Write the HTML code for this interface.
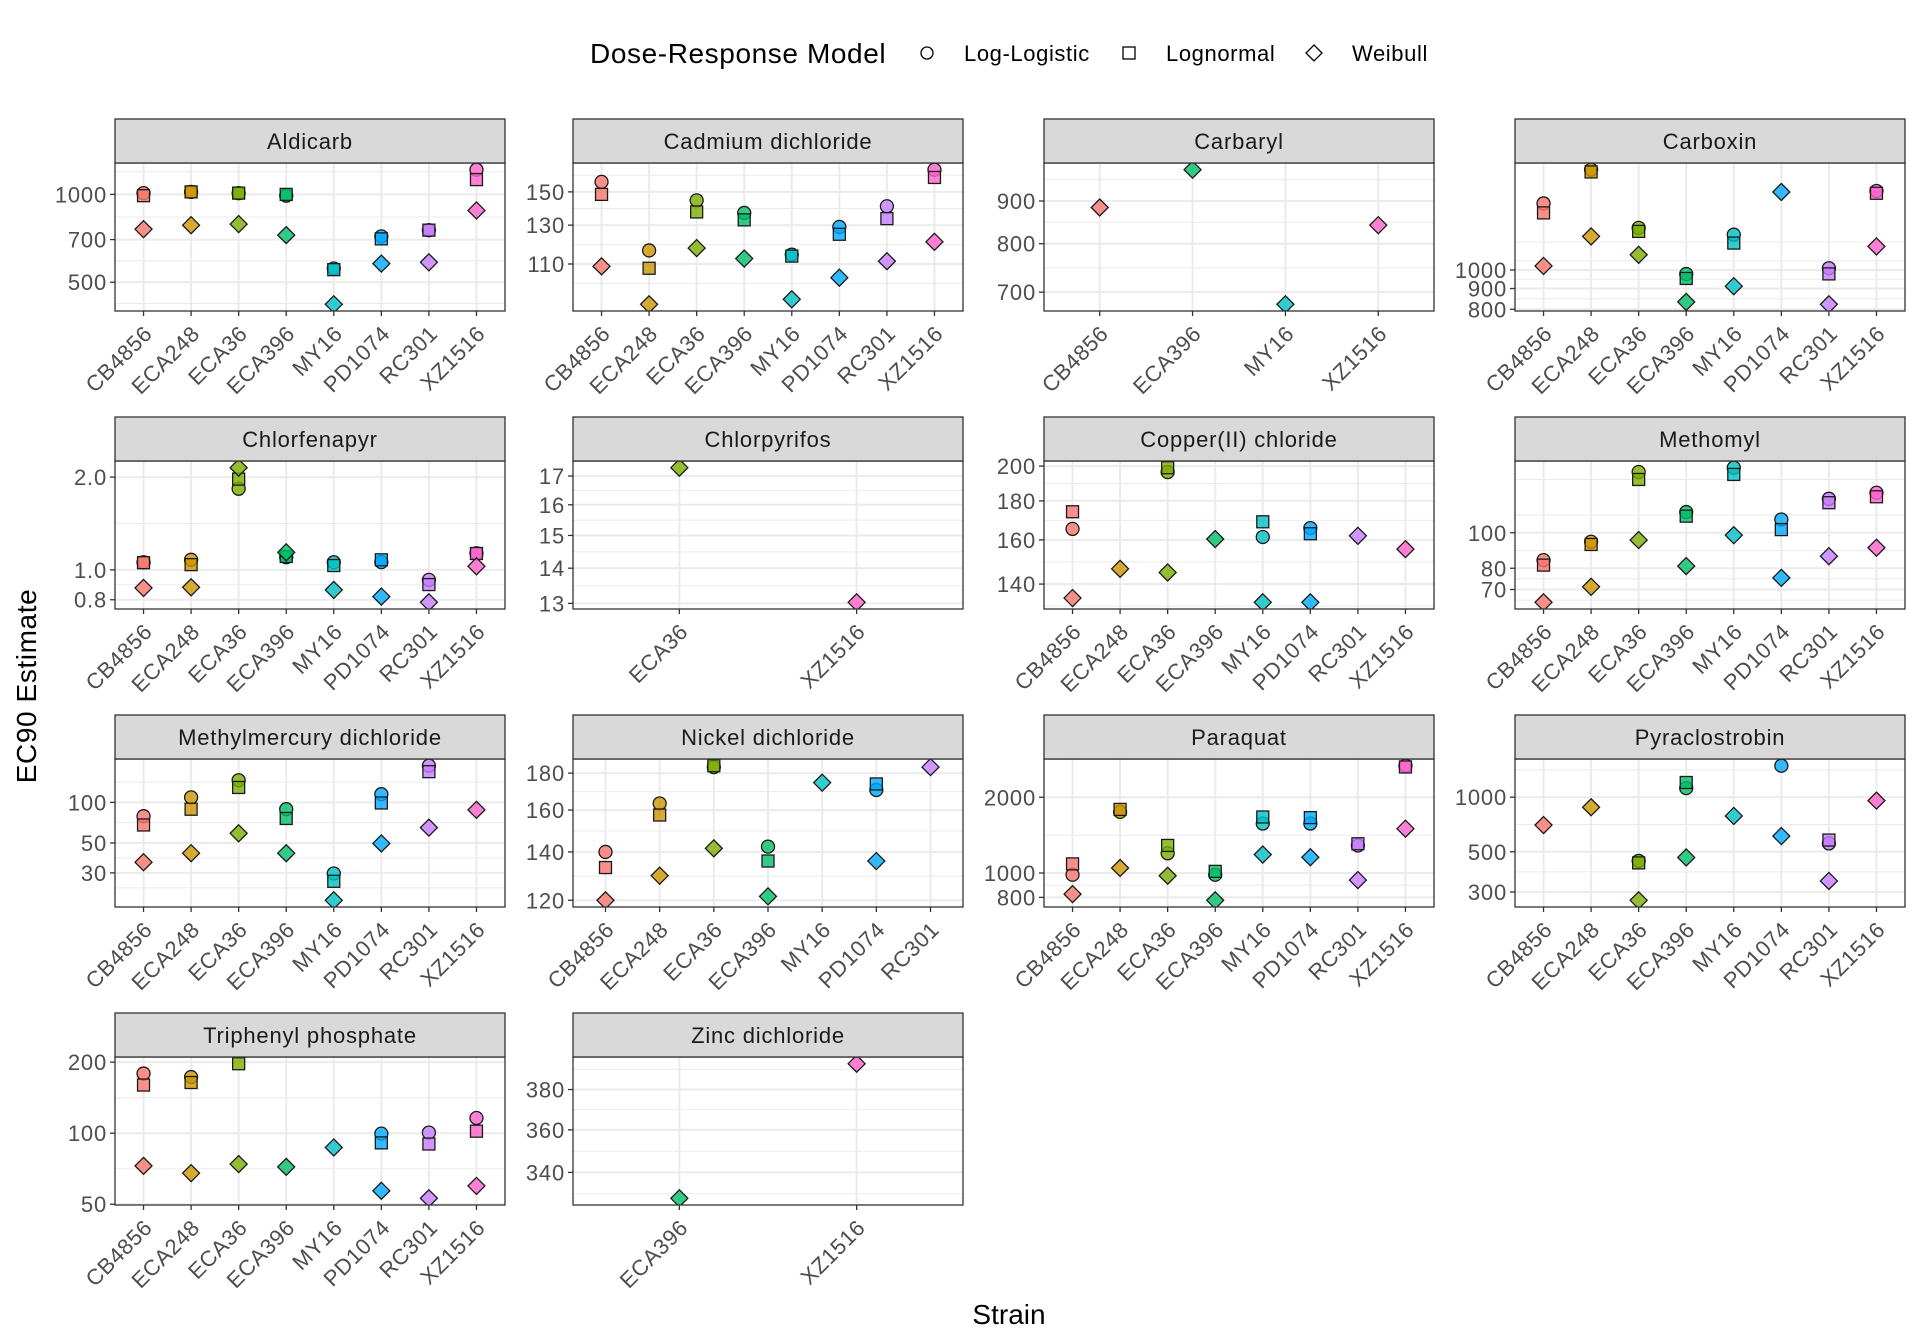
<!DOCTYPE html>
<html><head><meta charset="utf-8">
<style>
html,body{margin:0;padding:0;background:#fff;}
svg{display:block;font-family:"Liberation Sans",Arial,sans-serif;}
</style></head>
<body>
<svg id="chart" width="1920" height="1344" viewBox="0 0 1920 1344" xmlns="http://www.w3.org/2000/svg">
  <g>
    <text x="590" y="63" font-size="28" letter-spacing="0.6" fill="#000">Dose-Response Model</text>
    <g>
      <circle cx="927" cy="53" r="6" fill="#fff" stroke="#000" stroke-width="1.3"/>
      <text x="964" y="61" font-size="22" letter-spacing="0.6" fill="#000">Log-Logistic</text>
    </g>
    <g>
      <rect x="1123" y="47" width="12" height="12" fill="#fff" stroke="#000" stroke-width="1.3"/>
      <text x="1166" y="61" font-size="22" letter-spacing="0.6" fill="#000">Lognormal</text>
    </g>
    <g>
      <path d="M1314 45 L1322 53 L1314 61 L1306 53 Z" fill="#fff" stroke="#000" stroke-width="1.3"/>
      <text x="1352" y="61" font-size="22" letter-spacing="0.6" fill="#000">Weibull</text>
    </g>
  </g>
  <text x="1009" y="1324" font-size="28" text-anchor="middle" fill="#000">Strain</text>
  <text transform="translate(36,686) rotate(-90)" font-size="28" letter-spacing="0.6" text-anchor="middle" fill="#000">EC90 Estimate</text>
  <g id="panels"></g>
</svg>
<script>
const S8 = ["CB4856","ECA248","ECA36","ECA396","MY16","PD1074","RC301","XZ1516"];
const colorStrains = ["CB4856","ECA248","ECA36","ECA396","MY16","PD1074","RC301","XZ1516"];
const strainColors = ["#F8766D","#CD9600","#7CAE00","#00BE67","#00BFC4","#00A9FF","#C77CFF","#FF61CC"];

const aldicarbStrains = S8;
const aldicarbLogLogistic = [1010,1020,1010,990,557,718,754,1215];
const aldicarbLognormal = [990,1020,1010,1000,552,704,754,1124];
const aldicarbWeibull = [760,784,791,725,420,579,585,881];
const aldicarbTicks = [500,700,1000];

const cadmiumStrains = S8;
const cadmiumLogLogistic = [156.6,116.6,144.6,137,114.5,129,141,165];
const cadmiumLognormal = [148.4,108,137.6,133,113.8,125,133.7,159.6];
const cadmiumWeibull = [108.9,92.5,117.8,112.6,94.5,103.7,111.3,121];
const cadmiumTicks = [110,130,150];

const carbarylStrains = ["CB4856","ECA396","MY16","XZ1516"];
const carbarylLogLogistic = [null,null,null,null];
const carbarylLognormal = [null,null,null,null];
const carbarylWeibull = [884,981,677,842];
const carbarylTicks = [700,800,900];

const carboxinStrains = S8;
const carboxinLogLogistic = [1459,1767,1270,977,1222,null,1010,1566];
const carboxinLognormal = [1383,1745,1245,953,1165,null,978,1546];
const carboxinWeibull = [1023,1210,1090,834,912,1557,823,1143];
const carboxinTicks = [800,900,1000];

const chlorfenapyrStrains = S8;
const chlorfenapyrLogLogistic = [1.058,1.078,1.833,1.099,1.058,1.06,0.928,1.132];
const chlorfenapyrLognormal = [1.055,1.04,1.97,1.105,1.033,1.078,0.896,1.13];
const chlorfenapyrWeibull = [0.874,0.878,2.145,1.14,0.861,0.819,0.785,1.027];
const chlorfenapyrTicks = [0.8,1.0,2.0];

const chlorpyrifosStrains = ["ECA36","XZ1516"];
const chlorpyrifosLogLogistic = [null,null];
const chlorpyrifosLognormal = [null,null];
const chlorpyrifosWeibull = [17.3,13.03];
const chlorpyrifosTicks = [13,14,15,16,17];

const copperStrains = S8;
const copperLogLogistic = [165.4,null,196.4,null,161.4,165.8,null,null];
const copperLognormal = [174.2,null,199,null,169,163,null,null];
const copperWeibull = [134.2,146.6,145,160.4,132.5,132.5,162,155.6];
const copperTicks = [140,160,180,200];

const methomylStrains = S8;
const methomylLogLogistic = [84.2,94.5,146.5,113.9,150.5,108.7,123.8,128.6];
const methomylLognormal = [81.6,92.9,139.8,111,144.3,102,120.8,125.4];
const methomylWeibull = [64.6,71.2,95.5,81.1,98.5,75.3,86.3,91];
const methomylTicks = [70,80,100];

const methylmercuryStrains = S8;
const methylmercuryLogLogistic = [79,109,146,89,29.7,115,187,null];
const methylmercuryLognormal = [68,89,129,76,26,99,169,null];
const methylmercuryWeibull = [36,42,59,42,18.8,49.6,65,88];
const methylmercuryTicks = [30,50,100];

const nickelStrains = ["CB4856","ECA248","ECA36","ECA396","MY16","PD1074","RC301"];
const nickelLogLogistic = [140,163.4,183.5,142.4,null,170.6,null];
const nickelLognormal = [133.2,157.5,184.3,136,null,173.9,null];
const nickelWeibull = [120,129.8,141.6,121.5,174.6,136,183.5];
const nickelTicks = [120,140,160,180];

const paraquatStrains = S8;
const paraquatLogLogistic = [984,1750,1198,984,1573,1573,1287,2670];
const paraquatLognormal = [1087,1790,1287,1015,1670,1660,1307,2640];
const paraquatWeibull = [824,1047,975,779,1184,1155,937,1500];
const paraquatTicks = [800,1000,2000];

const pyraclostrobinStrains = S8;
const pyraclostrobinLogLogistic = [null,null,445,1122,null,1491,556,null];
const pyraclostrobinLognormal = [null,null,434,1205,null,null,580,null];
const pyraclostrobinWeibull = [702,880,270,465,788,610,345,957];
const pyraclostrobinTicks = [300,500,1000];

const triphenylStrains = S8;
const triphenylLogLogistic = [179,173,null,null,null,99.6,100.6,116];
const triphenylLognormal = [160,164,197,null,null,91,90,102];
const triphenylWeibull = [72.7,67.7,74,72,87,57,53,59.8];
const triphenylTicks = [50,100,200];

const zincStrains = ["ECA396","XZ1516"];
const zincLogLogistic = [null,null];
const zincLognormal = [null,null];
const zincWeibull = [328.4,393.4];
const zincTicks = [340,360,380];

const panelTitles = ["Aldicarb","Cadmium dichloride","Carbaryl","Carboxin","Chlorfenapyr","Chlorpyrifos","Copper(II) chloride","Methomyl","Methylmercury dichloride","Nickel dichloride","Paraquat","Pyraclostrobin","Triphenyl phosphate","Zinc dichloride"];
const panelData = [
  [aldicarbStrains,aldicarbLogLogistic,aldicarbLognormal,aldicarbWeibull,aldicarbTicks],
  [cadmiumStrains,cadmiumLogLogistic,cadmiumLognormal,cadmiumWeibull,cadmiumTicks],
  [carbarylStrains,carbarylLogLogistic,carbarylLognormal,carbarylWeibull,carbarylTicks],
  [carboxinStrains,carboxinLogLogistic,carboxinLognormal,carboxinWeibull,carboxinTicks],
  [chlorfenapyrStrains,chlorfenapyrLogLogistic,chlorfenapyrLognormal,chlorfenapyrWeibull,chlorfenapyrTicks],
  [chlorpyrifosStrains,chlorpyrifosLogLogistic,chlorpyrifosLognormal,chlorpyrifosWeibull,chlorpyrifosTicks],
  [copperStrains,copperLogLogistic,copperLognormal,copperWeibull,copperTicks],
  [methomylStrains,methomylLogLogistic,methomylLognormal,methomylWeibull,methomylTicks],
  [methylmercuryStrains,methylmercuryLogLogistic,methylmercuryLognormal,methylmercuryWeibull,methylmercuryTicks],
  [nickelStrains,nickelLogLogistic,nickelLognormal,nickelWeibull,nickelTicks],
  [paraquatStrains,paraquatLogLogistic,paraquatLognormal,paraquatWeibull,paraquatTicks],
  [pyraclostrobinStrains,pyraclostrobinLogLogistic,pyraclostrobinLognormal,pyraclostrobinWeibull,pyraclostrobinTicks],
  [triphenylStrains,triphenylLogLogistic,triphenylLognormal,triphenylWeibull,triphenylTicks],
  [zincStrains,zincLogLogistic,zincLognormal,zincWeibull,zincTicks]
];

const NS = "http://www.w3.org/2000/svg";
const colLeft = [115,573,1044,1515];
const panelW = 390;
const rowTop = [119,417,715,1013];
const stripH = 44, plotH = 148;
const root = document.getElementById("panels");

function mk(tag, attrs, parent){
  const e = document.createElementNS(NS, tag);
  for (const k in attrs) e.setAttribute(k, attrs[k]);
  parent.appendChild(e);
  return e;
}
function slug(s){return s.toLowerCase().replace(/[^a-z0-9]+/g,'-').replace(/^-|-$/g,'');}

panelData.forEach((pd, idx) => {
  const [strains, ll, ln, wb, ticks] = pd;
  const title = panelTitles[idx];
  const L = colLeft[idx % 4], T = rowTop[Math.floor(idx / 4)];
  const pTop = T + stripH, pBot = pTop + plotH;
  const g = mk("g", {}, root);
  
  

  const all = [].concat(ll, ln, wb).filter(v => v != null).map(v => Math.log10(v));
  let lo = Math.min.apply(null, all), hi = Math.max.apply(null, all);
  const ex = (hi - lo) * 0.05; lo -= ex; hi += ex;
  const yScale = v => pBot - (Math.log10(v) - lo) / (hi - lo) * plotH;
  const n = strains.length;
  const xScale = i => L + (i + 0.6) / (n + 0.2) * panelW;

  mk("rect", {x:L, y:pTop, width:panelW, height:plotH, fill:"#fff"}, g);
  const clipId = "clip" + idx;
  const cp = mk("clipPath", {id:clipId}, g);
  mk("rect", {x:L, y:pTop, width:panelW, height:plotH}, cp);
  const grid = mk("g", {"clip-path":"url(#"+clipId+")"}, g);
  
  

  const lt = ticks.map(t => Math.log10(t));
  const minors = [];
  for (let i = 0; i < lt.length - 1; i++) minors.push((lt[i] + lt[i+1]) / 2);
  if (lt.length > 1) {
    const d0 = lt[1] - lt[0], d1 = lt[lt.length-1] - lt[lt.length-2];
    minors.push(lt[0] - d0/2, lt[lt.length-1] + d1/2, lt[lt.length-1] + d1*1.5);
  }
  minors.forEach(m => {
    const y = pBot - (m - lo) / (hi - lo) * plotH;
    mk("line", {x1:L, x2:L+panelW, y1:y, y2:y, stroke:"#ebebeb", "stroke-width":1}, grid);
  });
  ticks.forEach(t => {
    const y = yScale(t);
    mk("line", {x1:L, x2:L+panelW, y1:y, y2:y, stroke:"#ebebeb", "stroke-width":2}, grid);
  });
  strains.forEach((s, i) => {
    const x = xScale(i);
    mk("line", {x1:x, x2:x, y1:pTop, y2:pBot, stroke:"#ebebeb", "stroke-width":2}, grid);
  });

  const marks = mk("g", {"clip-path":"url(#"+clipId+")"}, g);
  const series = [["log-logistic", ll], ["lognormal", ln], ["weibull", wb]];
  series.forEach(([name, vals]) => {
    vals.forEach((v, i) => {
      if (v == null) return;
      const x = xScale(i), y = yScale(v);
      const col = strainColors[colorStrains.indexOf(strains[i])];
      let el;
      const st = {fill:col, "fill-opacity":0.8, stroke:"#1a1a1a", "stroke-width":1.3};
      if (name === "log-logistic") {
        el = mk("circle", Object.assign({cx:x, cy:y, r:6.5}, st), marks);
      } else if (name === "lognormal") {
        el = mk("rect", Object.assign({x:x-6, y:y-6, width:12, height:12}, st), marks);
      } else {
        el = mk("path", Object.assign({d:`M${x} ${y-8.5} L${x+8.5} ${y} L${x} ${y+8.5} L${x-8.5} ${y} Z`}, st), marks);
      }
      
      
    });
  });

  mk("rect", {x:L, y:pTop, width:panelW, height:plotH, fill:"none", stroke:"#333", "stroke-width":1.3}, g);
  const strip = mk("g", {}, g);
  
  
  mk("rect", {x:L, y:T, width:panelW, height:stripH, fill:"#d9d9d9", stroke:"#333", "stroke-width":1.3}, strip);
  const st = mk("text", {x:L+panelW/2, y:T+stripH/2+8, "text-anchor":"middle", "font-size":22, "letter-spacing":0.8, fill:"#1a1a1a"}, strip);
  st.textContent = title;

  const ya = mk("g", {}, g);
  
  
  ticks.forEach(t => {
    const y = yScale(t);
    if (y < pTop - 1 || y > pBot + 1) return;
    mk("line", {x1:L-5, x2:L, y1:y, y2:y, stroke:"#333", "stroke-width":1.3}, ya);
    const tx = mk("text", {x:L-8, y:y+8, "text-anchor":"end", "font-size":22, "letter-spacing":0.8, fill:"#4d4d4d"}, ya);
    tx.textContent = (t < 3) ? t.toFixed(1) : String(t);
    
    
  });
  const xa = mk("g", {}, g);
  
  
  strains.forEach((s, i) => {
    const x = xScale(i);
    mk("line", {x1:x, x2:x, y1:pBot, y2:pBot+5, stroke:"#333", "stroke-width":1.3}, xa);
    const ax = x + 10, ay = pBot + 24;
    const tx = mk("text", {x:ax, y:ay, "text-anchor":"end", "font-size":22, "letter-spacing":0.6, fill:"#4d4d4d", transform:`rotate(-45 ${ax} ${ay})`}, xa);
    tx.textContent = s;
    
    
  });
});
</script>
</body></html>
